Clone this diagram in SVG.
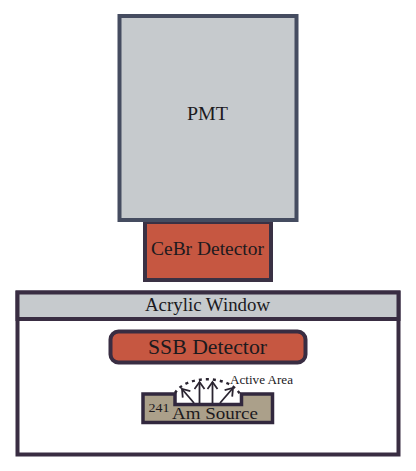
<svg xmlns="http://www.w3.org/2000/svg" width="416" height="471" viewBox="0 0 416 471">
<style>
text{font-family:"Liberation Serif","Times New Roman",serif;fill:#1c1a1e;text-anchor:middle}
.d{stroke:#392d42;stroke-width:4}
.g{fill:#c6cacd}
.r{fill:#c65741}
.a{fill:none;stroke:#2a2430;stroke-width:1.800}
</style>
<defs><marker id="h" markerWidth="14" markerHeight="14" refX="8" refY="6" orient="auto" markerUnits="userSpaceOnUse"><path d="M1 1L8 6L1 11" fill="none" stroke="#2a2430" stroke-width="1.800"/></marker></defs>
<rect width="416" height="471" fill="#fff"/>
<g id="pmt"><rect x="119.500" y="16" width="177" height="204" class="g" stroke="#454c60" stroke-width="4"/><text x="207.500" y="120" font-size="19.500" textLength="41" lengthAdjust="spacingAndGlyphs">PMT</text></g>
<g id="cebr"><rect x="145" y="222" width="126" height="58" class="r" stroke="#3a3144" stroke-width="4"/><path d="M143 220.500H273" stroke="#454c60" stroke-width="3"/><text x="207.500" y="254.500" font-size="18.500" textLength="113" lengthAdjust="spacingAndGlyphs">CeBr Detector</text></g>
<g id="chamber"><rect x="17.500" y="292.500" width="381" height="162" fill="#fff" class="d"/><rect x="17.500" y="292.500" width="381" height="26.500" class="g d"/><text x="207.500" y="311" font-size="18" textLength="125" lengthAdjust="spacingAndGlyphs">Acrylic Window</text></g>
<g id="ssb"><rect x="110.500" y="331.500" width="195" height="31" rx="8" class="r d"/><text x="207.500" y="354" font-size="21" textLength="119" lengthAdjust="spacingAndGlyphs">SSB Detector</text></g>
<g id="source"><path d="M143 394H175V404.500H241.500V394H272.500V422.500H143Z" fill="#aba08a" stroke="#32283e" stroke-width="3.500"/><text x="159" y="412" font-size="12" textLength="21" lengthAdjust="spacingAndGlyphs">241</text><text x="215" y="418.500" font-size="17.500" textLength="86" lengthAdjust="spacingAndGlyphs">Am Source</text></g>
<g id="connectors"><path d="M175 393C186 375 228 374 240 394" fill="none" stroke="#2a2430" stroke-width="2.500" stroke-dasharray="3 4"/>
<path class="a" d="M194 403L182 389" marker-end="url(#h)"/><path class="a" d="M199.500 403V382" marker-end="url(#h)"/><path class="a" d="M212.500 403V382" marker-end="url(#h)"/><path class="a" d="M220 403L233 388" marker-end="url(#h)"/></g>
<text x="261.500" y="384" font-size="12" textLength="63" lengthAdjust="spacingAndGlyphs">Active Area</text>
</svg>
